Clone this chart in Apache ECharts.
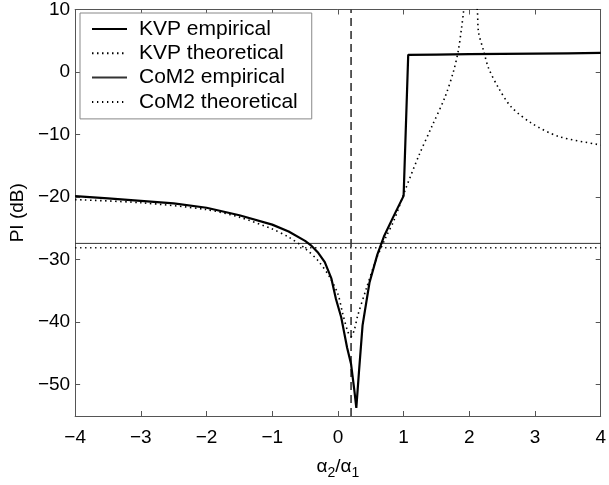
<!DOCTYPE html>
<html>
<head>
<meta charset="utf-8">
<script src="https://cdn.jsdelivr.net/npm/echarts@6/dist/echarts.min.js"></script>
<style>
  html, body { margin: 0; padding: 0; background: #fff; }
  #main { width: 609px; height: 485px; }
</style>
</head>
<body>
<div id="main"></div>
<script>
// values
var kvpEmpX = [-4, -3.5, -3, -2.5, -2, -1.5, -1, -0.75, -0.5, -0.4, -0.3, -0.2, -0.1, -0.03, 0.05, 0.14, 0.2, 0.25, 0.28, 0.32, 0.375, 0.48, 0.6, 0.7, 0.85, 1.0, 1.07, 1.5, 2, 2.5, 3, 3.5, 4];
var kvpEmpY = [-19.85, -20.2, -20.6, -21.0, -21.7, -22.9, -24.4, -25.5, -27.0, -27.8, -28.9, -30.4, -33.0, -36.3, -39.2, -44.1, -46.7, -50.9, -53.7, -48.0, -40.5, -33.7, -29.2, -26.3, -23.0, -19.8, 2.75, 2.8, 2.85, 2.9, 2.95, 3.0, 3.05];

var kvpTheoX = [-4, -3, -2, -1.5, -1, -0.75, -0.5, -0.3, -0.13, 0, 0.07, 0.15, 0.2, 0.25, 0.3, 0.43, 0.58, 0.73, 0.85, 1.03, 1.23, 1.43, 1.63, 1.76, 1.83, 1.88, 1.91, 1.95, 2.05, 2.12, 2.14, 2.22, 2.29, 2.44, 2.64, 2.95, 3.36, 3.96, 4];
var kvpTheoY = [-20.4, -20.9, -22.0, -23.2, -25.1, -26.4, -28.2, -30.2, -32.7, -35.5, -38.5, -41.5, -42.3, -41.2, -39.0, -34.7, -30.0, -26.4, -23.8, -18.7, -13.4, -8.7, -4.0, 0.15, 3.3, 6.9, 9.5, 14, 14, 10, 6.4, 3.3, 0.7, -2.45, -5.6, -8.2, -10.3, -11.6, -11.7];

var com2X = [-4, 4];
var com2EmpY = [-27.4, -27.4];
var com2TheoY = [-28.1, -28.1];

var markX = [0.2, 0.2];
var markY = [-55, 10];

var yTicks = [-50, -40, -30, -20, -10, 0, 10];
var seriesNames = ['KVP empirical', 'KVP theoretical', 'CoM2 empirical', 'CoM2 theoretical'];

function pairs(xs, ys) {
  var out = [];
  for (var i = 0; i < xs.length; i++) out.push([xs[i], ys[i]]);
  return out;
}

var font = "'Liberation Sans', Arial, Helvetica, sans-serif";
var axisCol = '#555';
var fmt = function (v) { return String(v).replace('-', '\u2212'); };

var chart = echarts.init(document.getElementById('main'), null, { renderer: 'canvas' });

var boxAxis = {
  axisLine: { show: true, onZero: false, lineStyle: { color: axisCol, width: 1 } },
  axisTick: { show: true, inside: true, length: 5, lineStyle: { color: axisCol } },
  splitLine: { show: false }
};

var option = {
  animation: false,
  backgroundColor: '#fff',
  textStyle: { fontFamily: font },
  grid: { left: 74, right: 6, top: 7, bottom: 62, containLabel: false },
  legend: {
    data: seriesNames,
    orient: 'vertical',
    left: 80,
    top: 13,
    padding: [5, 14, 6, 11],
    itemWidth: 35,
    itemHeight: 14,
    itemGap: 2.3,
    itemStyle: { opacity: 0 },
    backgroundColor: '#fff',
    borderColor: '#888',
    borderWidth: 1,
    borderRadius: 0,
    textStyle: { fontSize: 21, color: '#000', fontFamily: font, lineHeight: 22, padding: [0, 0, 0, 7] }
  },
  xAxis: [
    Object.assign({}, boxAxis, {
      type: 'value', min: -4, max: 4, interval: 1, position: 'bottom',
      axisLabel: { fontSize: 19, color: '#000', margin: 12, formatter: fmt, fontFamily: font },
      name: '{a|\u03b1}{s|2}{a|/\u03b1}{s|1}',
      nameLocation: 'middle',
      nameGap: 38,
      nameTextStyle: {
        rich: {
          a: { fontSize: 19, color: '#000', fontFamily: font },
          s: { fontSize: 14, color: '#000', fontFamily: font, padding: [12, 0, 0, 0] }
        }
      }
    }),
    Object.assign({}, boxAxis, {
      type: 'value', min: -4, max: 4, interval: 1, position: 'top',
      axisLabel: { show: false }
    })
  ],
  yAxis: [
    Object.assign({}, boxAxis, {
      type: 'value', min: -55, max: 10, position: 'left',
      axisTick: { show: true, inside: true, length: 5, lineStyle: { color: axisCol }, customValues: yTicks },
      axisLabel: { fontSize: 19, color: '#000', margin: 5, formatter: fmt, customValues: yTicks, fontFamily: font },
      name: 'PI (dB)',
      nameLocation: 'middle',
      nameGap: 47,
      nameTextStyle: { fontSize: 19, color: '#000', fontFamily: font }
    }),
    Object.assign({}, boxAxis, {
      type: 'value', min: -55, max: 10, position: 'right',
      axisTick: { show: true, inside: true, length: 5, lineStyle: { color: axisCol }, customValues: yTicks },
      axisLabel: { show: false }
    })
  ],
  series: [
    {
      name: seriesNames[0], type: 'line', symbol: 'none', clip: true,
      data: pairs(kvpEmpX, kvpEmpY),
      lineStyle: { color: '#000', width: 2.2 },
      itemStyle: { color: '#000' },
      z: 5
    },
    {
      name: seriesNames[1], type: 'line', symbol: 'none', clip: true, smooth: 0.3,
      data: pairs(kvpTheoX, kvpTheoY),
      lineStyle: { color: '#000', width: 1.6, type: [1.5, 3.5] },
      itemStyle: { color: '#000' },
      z: 4
    },
    {
      name: seriesNames[2], type: 'line', symbol: 'none', clip: true,
      data: pairs(com2X, com2EmpY),
      lineStyle: { color: '#333', width: 1 },
      itemStyle: { color: '#333' },
      z: 3
    },
    {
      name: seriesNames[3], type: 'line', symbol: 'none', clip: true,
      data: pairs(com2X, com2TheoY),
      lineStyle: { color: '#000', width: 1.3, type: [1.3, 3.7] },
      itemStyle: { color: '#000' },
      z: 3
    },
    {
      name: 'marker', type: 'line', symbol: 'none', clip: true,
      data: pairs(markX, markY),
      lineStyle: { color: '#333', width: 1.6, type: [8, 5] },
      z: 2
    }
  ]
};

chart.setOption(option);
</script>
</body>
</html>
